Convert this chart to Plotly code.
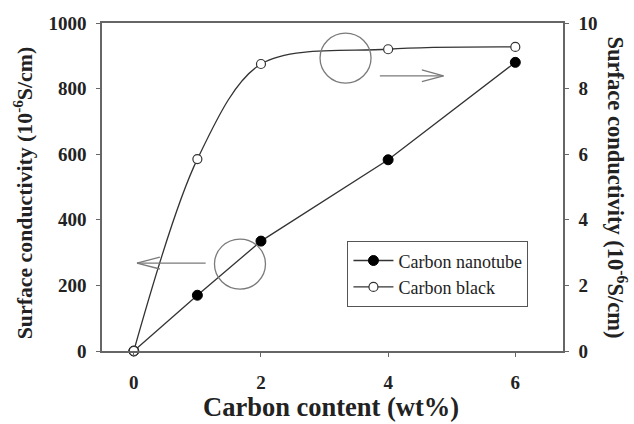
import plotly.graph_objects as go

carbon_content = [0, 1, 2, 4, 6]
nanotube = [0, 170, 335, 583, 880]
black = [0, 5.85, 8.75, 9.2, 9.27]

x_ticks = [0, 2, 4, 6]
y1_ticks = [0, 200, 400, 600, 800, 1000]
y2_ticks = [0, 2, 4, 6, 8, 10]

FONT = "Liberation Serif"
LINE = "#333333"
AX = "#666666"
DECO = "#7a7a7a"
TXT = "#222222"

fig = go.Figure()
fig.add_trace(go.Scatter(
    x=carbon_content, y=nanotube, name="Carbon nanotube", mode="lines+markers",
    line=dict(color=LINE, width=1.3),
    marker=dict(symbol="circle", size=10, color="black", line=dict(color="black", width=1)),
    cliponaxis=False, yaxis="y"))
fig.add_trace(go.Scatter(
    x=carbon_content, y=black, name="Carbon black", mode="lines+markers",
    line=dict(color=LINE, width=1.3, shape="spline", smoothing=0.9),
    marker=dict(symbol="circle", size=9, color="white", line=dict(color=LINE, width=1.2)),
    cliponaxis=False, yaxis="y2"))

shapes = []
for (cx, cy, yref) in [(1.67, 265, "y"), (3.33, 8.93, "y2")]:
    shapes.append(dict(type="circle", xref="x", yref=yref, xsizemode="pixel", ysizemode="pixel",
                       xanchor=cx, yanchor=cy, x0=-25.5, x1=25.5, y0=-25, y1=25,
                       line=dict(color=DECO, width=1.3)))
shapes += [
    dict(type="line", xref="x", yref="y", x0=1.13, y0=268, x1=0.05, y1=268, line=dict(color=DECO, width=1.3)),
    dict(type="line", xref="x", yref="y", x0=0.05, y0=268, x1=0.41, y1=286, line=dict(color=DECO, width=1.3)),
    dict(type="line", xref="x", yref="y", x0=0.05, y0=268, x1=0.41, y1=250, line=dict(color=DECO, width=1.3)),
]
shapes += [
    dict(type="line", xref="x", yref="y2", x0=3.87, y0=8.39, x1=4.87, y1=8.39, line=dict(color=DECO, width=1.3)),
    dict(type="line", xref="x", yref="y2", x0=4.87, y0=8.39, x1=4.53, y1=8.57, line=dict(color=DECO, width=1.3)),
    dict(type="line", xref="x", yref="y2", x0=4.87, y0=8.39, x1=4.53, y1=8.21, line=dict(color=DECO, width=1.3)),
]

tickfont = dict(family=FONT, size=19, color=TXT)
ytitle = "<b>Surface conductivity (10<sup>-6</sup>S/cm)</b>"
fig.update_layout(
    width=634, height=424,
    margin=dict(l=102, r=71, t=23, b=73),
    paper_bgcolor="white", plot_bgcolor="white",
    font=dict(family=FONT, color=TXT),
    showlegend=True,
    legend=dict(x=0.532, y=0.335, xanchor="left", yanchor="top",
                bordercolor="#555555", borderwidth=1.2, bgcolor="white",
                font=dict(family=FONT, size=18, color=TXT),
                tracegroupgap=0, itemwidth=40),
    shapes=shapes,
    xaxis=dict(range=[-0.5, 6.75], tickvals=x_ticks, ticktext=[f"<b>{v}</b>" for v in x_ticks],
               ticks="outside", ticklen=4, tickcolor=AX, showline=True, linecolor=AX, linewidth=1.5,
               mirror=True, showgrid=False, zeroline=False, tickfont=tickfont, ticklabelstandoff=9),
    yaxis=dict(range=[0, 1000], tickvals=y1_ticks, ticktext=[f"<b>{v}</b>" for v in y1_ticks],
               ticks="outside", ticklen=4, tickcolor=AX, showline=True, linecolor=AX, linewidth=1.5,
               showgrid=False, zeroline=False, tickfont=tickfont, ticklabelstandoff=6),
    yaxis2=dict(range=[0, 10], tickvals=y2_ticks, ticktext=[f"<b>{v}</b>" for v in y2_ticks],
                overlaying="y", side="right", anchor="x",
                ticks="outside", ticklen=4, tickcolor=AX, showline=True, linecolor=AX, linewidth=1.5,
                showgrid=False, zeroline=False, tickfont=tickfont, ticklabelstandoff=6),
    annotations=[
        dict(text=ytitle, textangle=-90, xref="paper", yref="paper", x=-0.172, y=0.48,
             xanchor="center", yanchor="middle", showarrow=False,
             font=dict(family=FONT, size=21.8, color=TXT)),
        dict(text=ytitle, textangle=90, xref="paper", yref="paper", x=1.118, y=0.497,
             xanchor="center", yanchor="middle", showarrow=False,
             font=dict(family=FONT, size=22.5, color=TXT)),
        dict(text="<b>Carbon content (wt%)</b>", xref="paper", yref="paper", x=0.496, y=-0.17,
             xanchor="center", yanchor="middle", showarrow=False,
             font=dict(family=FONT, size=26.5, color=TXT)),
    ],
)

fig.write_html("out.html", config={"displayModeBar": False},
               post_script="document.body.style.margin='0';")
